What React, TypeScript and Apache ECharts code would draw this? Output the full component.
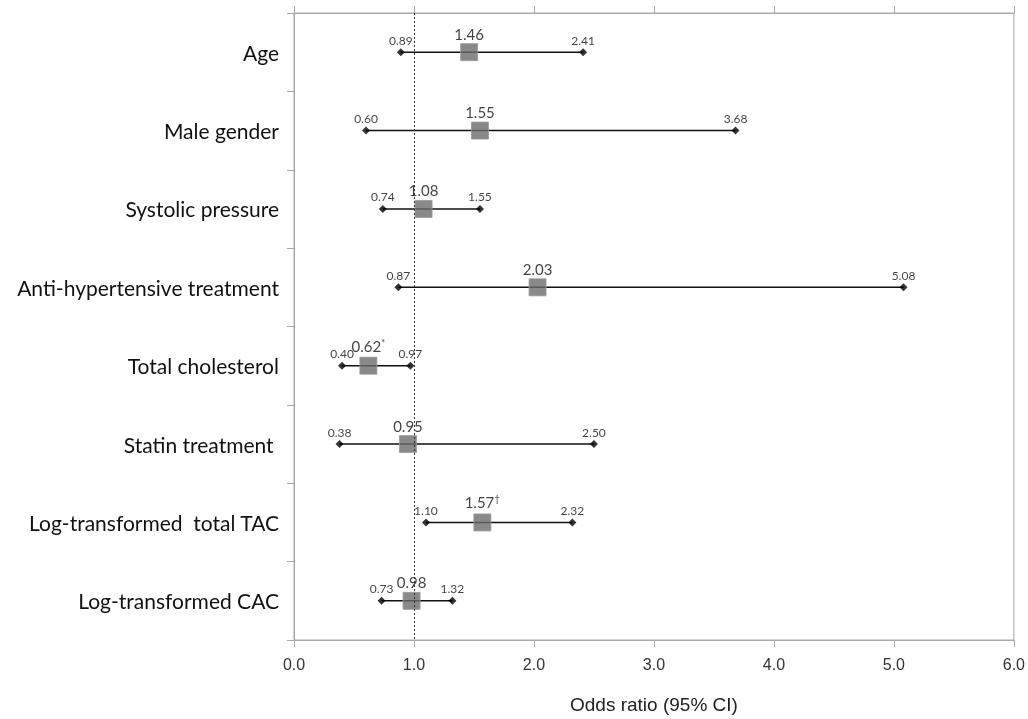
import React, { useEffect, useRef } from "react";
import * as echarts from "echarts";

const categories = [
  "Age",
  "Male gender",
  "Systolic pressure",
  "Anti-hypertensive treatment",
  "Total cholesterol",
  "Statin treatment ",
  "Log-transformed  total TAC",
  "Log-transformed CAC",
];
const oddsRatio = [1.46, 1.55, 1.08, 2.03, 0.62, 0.95, 1.57, 0.98];
const ciLow = [0.89, 0.6, 0.74, 0.87, 0.4, 0.38, 1.1, 0.73];
const ciHigh = [2.41, 3.68, 1.55, 5.08, 0.97, 2.5, 2.32, 1.32];
const marks = ["", "", "", "", "*", "", "†", ""];
const xTicks = [0, 1, 2, 3, 4, 5, 6];

export default function App() {
  const ref = useRef<HTMLDivElement>(null);
  useEffect(() => {
    if (!ref.current) return;
    const chart = echarts.init(ref.current, null, { renderer: "svg" });
    const axisColor = "#a8a8a8";
    const labelFont = "Lato, 'Open Sans', sans-serif";
    const arial = "'Liberation Sans', Arial, sans-serif";
    chart.setOption({
      animation: false,
      grid: {
        left: 294,
        right: 13,
        top: 13,
        bottom: 74,
        show: true,
        borderColor: axisColor,
        borderWidth: 1,
      },
      xAxis: [
        {
          type: "value",
          min: xTicks[0],
          max: xTicks[xTicks.length - 1],
          interval: 1,
          position: "bottom",
          axisLine: { show: true, lineStyle: { color: axisColor, width: 1 } },
          axisTick: { show: true, length: 7, lineStyle: { color: axisColor } },
          splitLine: { show: false },
          axisLabel: {
            formatter: (v: number) => v.toFixed(1),
            color: "#333",
            fontSize: 16,
            fontFamily: arial,
            margin: 16,
          },
          name: "Odds ratio (95% CI)",
          nameLocation: "middle",
          nameGap: 55,
          nameTextStyle: {
            color: "#222",
            fontSize: 19,
            fontFamily: arial,
          },
        },
        {
          type: "value",
          min: xTicks[0],
          max: xTicks[xTicks.length - 1],
          interval: 1,
          position: "top",
          axisLine: { show: true, lineStyle: { color: axisColor, width: 1 } },
          axisTick: { show: true, length: 7, lineStyle: { color: axisColor } },
          splitLine: { show: false },
          axisLabel: { show: false },
        },
      ],
      yAxis: {
        type: "category",
        data: categories,
        inverse: true,
        boundaryGap: true,
        axisLine: { show: true, lineStyle: { color: axisColor, width: 1 } },
        axisTick: { show: true, length: 7, lineStyle: { color: axisColor } },
        splitLine: { show: false },
        axisLabel: {
          color: "#111",
          fontSize: 21,
          fontFamily: labelFont,
          margin: 15,
        },
      },
      series: [
        {
          type: "custom",
          xAxisIndex: 0,
          data: categories.map((c, i) => [ciLow[i], ciHigh[i], i]),
          renderItem: (params: any, api: any) => {
            const p1 = api.coord([api.value(0), api.value(2)]);
            const p2 = api.coord([api.value(1), api.value(2)]);
            return {
              type: "line",
              shape: { x1: p1[0], y1: p1[1], x2: p2[0], y2: p2[1] },
              style: { stroke: "#111", lineWidth: 1.4 },
            };
          },
          markLine: {
            silent: true,
            symbol: "none",
            label: { show: false },
            lineStyle: { type: [2, 2], color: "#333", width: 1 },
            data: [{ xAxis: 1 }],
          },
          z: 2,
        },
        {
          type: "scatter",
          symbol: "diamond",
          symbolSize: 8,
          itemStyle: { color: "#000" },
          data: categories.map((c, i) => [ciLow[i], i]),
          label: {
            show: true,
            position: "top",
            distance: 2,
            formatter: (p: any) => ciLow[p.dataIndex].toFixed(2),
            fontSize: 12,
            color: "#111",
            fontFamily: labelFont,
          },
          z: 3,
        },
        {
          type: "scatter",
          symbol: "diamond",
          symbolSize: 8,
          itemStyle: { color: "#000" },
          data: categories.map((c, i) => [ciHigh[i], i]),
          label: {
            show: true,
            position: "top",
            distance: 2,
            formatter: (p: any) => ciHigh[p.dataIndex].toFixed(2),
            fontSize: 12,
            color: "#111",
            fontFamily: labelFont,
          },
          z: 3,
        },
        {
          type: "scatter",
          symbol: "rect",
          symbolSize: 17,
          itemStyle: { color: "#6b6b6b", borderColor: "#9a9a9a", borderWidth: 1 },
          data: categories.map((c, i) => [oddsRatio[i], i]),
          label: {
            show: true,
            position: "top",
            distance: 2,
            formatter: (p: any) => {
              const m = marks[p.dataIndex];
              return "{v|" + oddsRatio[p.dataIndex].toFixed(2) + "}" + (m ? "{s|" + m + "}" : "");
            },
            rich: {
              v: { fontSize: 15, color: "#111", fontFamily: labelFont },
              s: { fontSize: 10, color: "#111", fontFamily: labelFont, verticalAlign: "top", padding: [0, 0, 8, 0] },
            },
          },
          z: 4,
        },
      ],
    });
    return () => chart.dispose();
  }, []);
  return (
    <div
      ref={ref}
      style={{ position: "fixed", left: 0, top: 0, width: 1028, height: 719 }}
    />
  );
}
